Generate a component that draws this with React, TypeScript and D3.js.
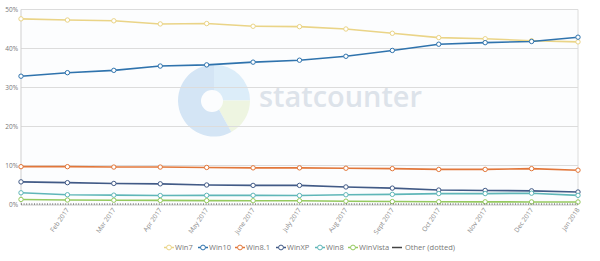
import React from "react";
import * as d3 from "d3";

const months = ["Jan 2017","Feb 2017","Mar 2017","Apr 2017","May 2017","June 2017","July 2017","Aug 2017","Sept 2017","Oct 2017","Nov 2017","Dec 2017","Jan 2018"];
const shownLabels = ["Feb 2017","Mar 2017","Apr 2017","May 2017","June 2017","July 2017","Aug 2017","Sept 2017","Oct 2017","Nov 2017","Dec 2017","Jan 2018"];
const yTicks = [0, 10, 20, 30, 40, 50];

const win7 = [47.6, 47.3, 47.1, 46.3, 46.4, 45.7, 45.6, 45.0, 43.9, 42.8, 42.5, 42.0, 41.7];
const win10 = [32.9, 33.8, 34.4, 35.5, 35.8, 36.5, 37.0, 38.0, 39.5, 41.1, 41.5, 41.8, 42.9];
const win81 = [9.7, 9.7, 9.6, 9.6, 9.5, 9.4, 9.4, 9.3, 9.2, 9.0, 9.0, 9.2, 8.8];
const winXP = [5.8, 5.6, 5.4, 5.3, 5.0, 4.9, 4.9, 4.5, 4.2, 3.7, 3.6, 3.5, 3.2];
const win8 = [3.0, 2.5, 2.4, 2.3, 2.35, 2.35, 2.3, 2.5, 2.6, 2.8, 2.8, 2.9, 2.35];
const winVista = [1.3, 1.15, 1.1, 1.05, 1.0, 0.97, 0.97, 0.85, 0.75, 0.7, 0.68, 0.66, 0.64];
const other = [0.12, 0.12, 0.12, 0.12, 0.12, 0.12, 0.12, 0.12, 0.12, 0.12, 0.12, 0.12, 0.12];

const seriesNames = ["Win7", "Win10", "Win8.1", "WinXP", "Win8", "WinVista", "Other (dotted)"];
const seriesColors = ["#ead487", "#2f73ad", "#e2773a", "#415a86", "#5fb6b8", "#95c95f", "#444444"];
const seriesData = [win7, win10, win81, winXP, win8, winVista, other];

const legendX = [169, 203, 240, 281, 320, 353, 397];

export default function App() {
  const x = d3.scalePoint<string>().domain(months).range([21, 578]);
  const y = d3.scaleLinear().domain([0, 50]).range([204.5, 9.5]);
  const line = d3.line<number>().x((_, i) => x(months[i]) as number).y((d) => y(d));

  const pie = d3.pie<number>().sort(null)([25, 17, 58]);
  const arc = d3.arc<d3.PieArcDatum<number>>().innerRadius(0).outerRadius(36);
  const pieColors = ["#dcedf9", "#eef5e1", "#d4e5f5"];

  return (
    <svg width={600} height={261} style={{ position: "absolute", left: 0, top: 0, background: "#fff" }} fontFamily="'Open Sans', sans-serif">
      <rect x={21} y={9.5} width={557} height={195} fill="#fcfdfe" />
      {/* watermark */}
      <g transform="translate(214,100.5)">
        {pie.map((p, i) => (
          <path key={i} d={arc(p) as string} fill={pieColors[i]} />
        ))}
        <circle cx={-2} cy={0.5} r={11} fill="#fcfdfe" />
      </g>
      <text x={259} y={107} fontSize={28} fontWeight={600} fill="#dde3ea" textLength={163} lengthAdjust="spacingAndGlyphs">statcounter</text>
      {/* grid */}
      {yTicks.map((t) => (
        <g key={t}>
          {t > 0 && <line x1={21} x2={578} y1={y(t)} y2={y(t)} stroke="#dcdcdc" strokeWidth={1} />}
          <text x={18} y={y(t) + 2.5} fontSize={6.5} fill="#777" textAnchor="end">{t}%</text>
        </g>
      ))}
      <line x1={21} x2={21} y1={9.5} y2={205} stroke="#cfcfcf" />
      <line x1={578} x2={578} y1={9.5} y2={205} stroke="#dcdcdc" />
      <line x1={21} x2={578} y1={205} y2={205} stroke="#c8c8c8" />
      {/* x labels */}
      {shownLabels.map((m) => {
        const px = (x(m) as number) + 2;
        return (
          <text key={m} transform={`translate(${px},210) rotate(-55)`} fontSize={6.5} fill="#888" textAnchor="end">{m}</text>
        );
      })}
      {/* series */}
      {seriesData.map((data, si) => {
        const dotted = si === 6;
        return (
          <g key={si}>
            <path d={line(data) as string} fill="none" stroke={seriesColors[si]} strokeWidth={dotted ? 1 : 1.6} strokeDasharray={dotted ? "1 1.6" : undefined} />
            {!dotted && data.map((d, i) => (
              <circle key={i} cx={x(months[i]) as number} cy={y(d)} r={2.2} fill="#fff" stroke={seriesColors[si]} strokeWidth={1} />
            ))}
          </g>
        );
      })}
      {/* legend */}
      {seriesNames.map((n, i) => (
        <g key={n} transform={`translate(${legendX[i]},247.5)`}>
          <line x1={-5} x2={5} y1={0} y2={0} stroke={seriesColors[i]} strokeWidth={1.5} />
          {i < 6 && <circle r={2.4} fill="#fff" stroke={seriesColors[i]} strokeWidth={1} />}
          <text x={i < 6 ? 6 : 8} y={2.7} fontSize={7.5} fill="#777">{n}</text>
        </g>
      ))}
    </svg>
  );
}
